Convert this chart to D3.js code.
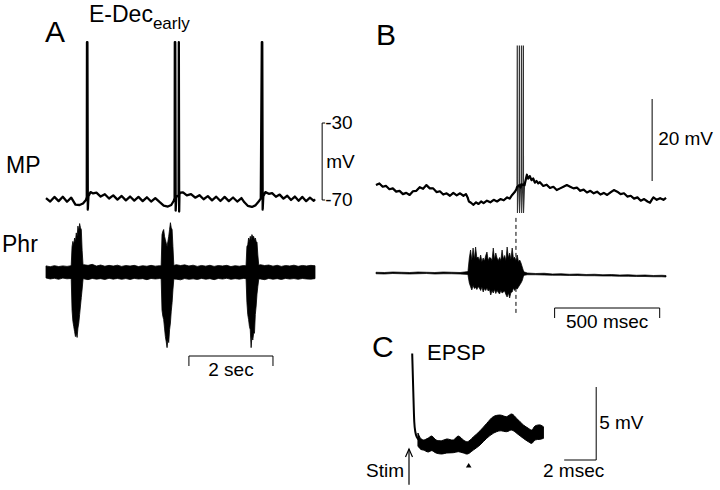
<!DOCTYPE html>
<html><head><meta charset="utf-8">
<script src="https://cdn.jsdelivr.net/npm/d3@7"></script>
<style>
body{margin:0;background:#fff}
svg{display:block}
text{font-family:"Liberation Sans",Arial,Helvetica,sans-serif;fill:#000}
</style>
</head><body>
<svg id="chart" width="720" height="490"></svg>
<script>
// ---------- DATA ----------
// Panel A: membrane potential (time s, mV)
const aMP = [
[0.0,-69.0],[0.1,-70.8],[0.2,-68.4],[0.3,-70.6],[0.4,-68.3],[0.5,-70.9],[0.6,-68.8],[0.7,-72.4],[0.8,-72.6],[0.88,-71.8],[0.95,-70.0],[0.97,-68.5],
[0.975,12],[0.985,12],[0.995,-75],[1.01,-68],[1.06,-65.9],[1.12,-66.6],[1.2,-66.2],[1.3,-68.2],[1.4,-67.0],[1.5,-69.2],[1.6,-67.6],[1.7,-69.8],
[1.8,-67.9],[1.9,-70.2],[2.0,-68.2],[2.1,-70.3],[2.2,-68.4],[2.3,-70.6],[2.4,-68.6],[2.5,-70.8],[2.6,-69.0],[2.7,-71.0],[2.8,-72.9],[2.9,-73.4],
[2.98,-72.6],[3.04,-70.4],[3.06,-69],[3.065,12],[3.075,12],[3.085,-75.5],[3.1,-68.5],[3.155,-67.5],[3.16,12],[3.168,-76],[3.175,-67],
[3.2,-66.2],[3.26,-66.0],[3.35,-67.6],[3.45,-66.9],[3.55,-68.8],[3.65,-67.5],[3.75,-69.6],[3.85,-68.0],[3.95,-70.2],[4.05,-68.3],[4.15,-70.5],
[4.25,-68.4],[4.35,-70.6],[4.45,-68.7],[4.55,-70.8],[4.65,-69.0],[4.72,-71.2],[4.8,-73.0],[4.9,-73.6],[4.98,-72.8],[5.06,-70.8],[5.11,-69.2],
[5.135,12],[5.145,12],[5.155,-75],[5.17,-68],[5.22,-65.9],[5.3,-66.8],[5.38,-66.4],[5.47,-68.3],[5.56,-67.2],[5.65,-69.3],[5.74,-67.8],
[5.83,-70.0],[5.92,-68.2],[6.01,-70.4],[6.1,-68.4],[6.19,-70.6],[6.28,-68.8],[6.37,-70.4],[6.4,-69.6]
];
// Panel A: phrenic nerve band envelope (time s, upper, lower; arbitrary units)
const aPhrBand = [
[0.0,0.72,-0.70],[0.1,0.62,-0.82],[0.2,0.75,-0.74],[0.3,0.64,-0.86],[0.4,0.72,-0.72],[0.5,0.66,-0.80],[0.6,0.74,-0.76],[0.7,0.7,-0.8],[0.8,0.7,-0.8],
[0.9,0.86,-0.80],[1.0,0.78,-0.90],[1.1,0.90,-0.76],[1.2,0.70,-0.84],[1.3,0.82,-0.78],[1.4,0.68,-0.88],[1.5,0.78,-0.74],[1.6,0.70,-0.84],
[1.7,0.80,-0.76],[1.8,0.66,-0.86],[1.9,0.76,-0.77],[2.0,0.70,-0.88],[2.1,0.78,-0.75],[2.2,0.64,-0.83],[2.3,0.74,-0.78],[2.4,0.68,-0.90],
[2.5,0.78,-0.76],[2.6,0.69,-0.82],[2.7,0.74,-0.77],[2.8,0.7,-0.8],[2.9,0.7,-0.8],[3.0,0.7,-0.8],[3.1,0.86,-0.84],[3.2,0.76,-0.92],[3.3,0.84,-0.77],
[3.4,0.71,-0.86],[3.5,0.80,-0.80],[3.6,0.66,-0.88],[3.7,0.77,-0.75],[3.8,0.69,-0.85],[3.9,0.79,-0.78],[4.0,0.66,-0.90],[4.1,0.76,-0.76],
[4.2,0.71,-0.83],[4.3,0.78,-0.74],[4.4,0.64,-0.86],[4.5,0.74,-0.78],[4.6,0.68,-0.84],[4.7,0.76,-0.76],[4.8,0.7,-0.8],[4.9,0.7,-0.8],[5.0,0.7,-0.8],
[5.1,0.86,-0.82],[5.2,0.76,-0.90],[5.3,0.82,-0.76],[5.4,0.69,-0.85],[5.5,0.79,-0.78],[5.6,0.66,-0.88],[5.7,0.76,-0.75],[5.8,0.71,-0.83],
[5.9,0.80,-0.77],[6.0,0.67,-0.86],[6.1,0.77,-0.76],[6.2,0.71,-0.82],[6.3,0.78,-0.84],[6.4,0.74,-0.78]
];
// Panel A: phrenic bursts (time s, upper, lower)
const aPhrBurst1 = [
[0.60,0.8,-0.8],[0.62,3.0,-4.5],[0.64,3.6,-5.8],[0.66,3.2,-6.4],[0.68,4.0,-7.0],[0.70,3.6,-7.6],[0.72,4.6,-7.2],[0.74,4.2,-7.7],
[0.76,5.4,-6.6],[0.78,4.8,-6.0],[0.80,5.7,-5.0],[0.82,5.2,-4.0],[0.84,5.0,-3.0],[0.86,2.5,-2.0],[0.88,0.9,-0.9]
];
const aPhrBurst2 = [
[2.74,0.8,-0.8],[2.76,4.4,-4.5],[2.78,4.8,-5.2],[2.80,5.0,-5.6],[2.82,4.2,-6.6],[2.84,3.8,-7.6],[2.86,3.4,-8.2],[2.88,3.0,-8.9],
[2.90,3.6,-8.0],[2.92,4.2,-8.3],[2.94,5.0,-6.8],[2.96,5.8,-6.0],[2.98,5.2,-4.6],[3.00,5.0,-3.6],[3.02,3.0,-2.1],[3.04,0.9,-0.9]
];
const aPhrBurst3 = [
[4.76,0.8,-0.8],[4.78,3.0,-3.6],[4.80,3.2,-5.0],[4.82,4.0,-5.6],[4.84,3.6,-6.4],[4.86,4.2,-6.8],[4.88,3.8,-8.9],[4.90,4.4,-7.6],
[4.92,4.1,-8.0],[4.94,4.2,-7.2],[4.96,3.8,-7.2],[4.98,4.0,-5.0],[5.00,3.6,-4.0],[5.02,3.5,-2.6],[5.04,2.0,-1.7],[5.06,0.9,-0.9]
];
// Panel B: membrane potential (time ms, mV relative)
const bMP = [
[0,-1.0],[16,-0.6],[32,-1.4],[48,-1.2],[64,-2.0],[80,-1.8],[96,-2.6],[112,-2.4],[128,-3.2],[144,-2.9],[160,-3.4],[176,-2.5],[192,-2.4],
[208,-1.5],[224,-1.9],[240,-1.0],[256,-1.8],[272,-1.8],[288,-2.7],[304,-2.5],[320,-3.3],[336,-3.0],[352,-3.6],[368,-2.9],[384,-3.5],
[400,-3.0],[416,-3.6],[428,-3.2],[436,-4.0],[442,-5.0],[452,-5.3],[464,-5.8],[476,-5.2],[488,-5.6],[500,-5.0],[512,-5.4],[528,-4.8],
[544,-5.2],[560,-4.6],[576,-5.0],[592,-4.4],[608,-4.7],[624,-4.0],[636,-4.3],[648,-3.4],[660,-2.7],[668,-2.0],
[671,-1.5],[672,32.9],[672.6,32.9],[673,-7.8],[678,-1.2],
[681,-1.0],[682,32.9],[682.6,32.9],[683,-7.8],[688,-1.6],
[691,-0.8],[692,32.9],[692.6,32.9],[693,-7.8],[698,-1.0],
[700,-0.8],[701,32.9],[701.6,32.9],[702,-7.8],[707,-1.0],
[712,0.2],[718,1.5],[724,0.6],[732,1.2],[740,0.2],[748,0.6],[756,-0.4],[764,0.0],[772,-0.6],[780,-0.3],[796,-1.2],[812,-0.9],
[828,-1.7],[844,-1.4],[860,-2.2],[876,-1.8],[892,-1.4],[908,-1.0],[924,-1.4],[940,-1.8],[956,-1.6],[972,-2.4],[988,-2.1],[1004,-2.8],
[1020,-2.4],[1036,-3.0],[1052,-2.6],[1068,-3.3],[1084,-2.9],[1100,-3.4],[1116,-2.8],[1132,-2.2],[1148,-2.6],[1164,-3.2],[1180,-3.0],
[1196,-3.8],[1212,-3.6],[1228,-4.3],[1244,-4.0],[1260,-4.8],[1276,-4.4],[1292,-5.0],[1304,-5.3],[1312,-4.6],[1320,-4.0],[1336,-4.6],
[1352,-4.2],[1368,-4.6],[1380,-4.1]
];
// Panel B: phrenic (time ms, upper, lower; arbitrary units)
const bPhrBase1 = [
[0,0.03,-0.03],[40,0.02,-0.04],[80,0.04,-0.02],[120,0.03,-0.03],[160,0.02,-0.04],[200,0.04,-0.03],[240,0.03,-0.02],[280,0.02,-0.04],
[320,0.04,-0.03],[360,0.03,-0.03],[400,0.02,-0.04],[440,0.06,-0.06]
];
const bPhrBase2 = [
[700,0.06,-0.1],[720,0.0,-0.07],[760,-0.02,-0.07],[800,-0.01,-0.08],[840,-0.04,-0.09],[880,-0.03,-0.09],[920,-0.05,-0.1],[960,-0.04,-0.1],
[1000,-0.06,-0.11],[1040,-0.05,-0.11],[1080,-0.07,-0.12],[1120,-0.06,-0.12],[1160,-0.08,-0.13],[1200,-0.07,-0.13],[1240,-0.09,-0.14],
[1280,-0.08,-0.14],[1320,-0.1,-0.15],[1360,-0.09,-0.15],[1380,-0.1,-0.16]
];
const bPhrBurst = [
[438,0.1,-0.1],[444,0.6,-0.4],[450,0.92,-0.55],[456,0.5,-0.68],[462,1.0,-0.5],[468,0.55,-0.62],[474,1.04,-0.58],[480,0.6,-0.66],
[486,0.64,-0.55],[492,0.5,-0.6],[498,0.72,-0.7],[504,0.45,-0.56],[510,0.6,-0.76],[516,0.48,-0.62],[522,0.7,-0.7],[528,0.84,-0.6],
[534,0.5,-0.72],[540,0.62,-0.66],[546,0.6,-0.88],[552,0.5,-0.7],[558,1.0,-0.8],[564,0.55,-0.66],[570,0.8,-0.82],[576,0.6,-0.7],
[582,0.5,-0.78],[588,0.62,-0.84],[594,0.5,-0.7],[600,0.92,-0.8],[606,0.55,-0.76],[612,0.7,-0.72],[618,0.5,-0.86],[624,1.04,-0.96],
[630,0.6,-0.8],[636,0.8,-1.0],[642,0.55,-0.78],[648,1.0,-0.76],[654,0.58,-0.6],[660,0.64,-0.7],[666,0.5,-0.6],[672,0.72,-0.64],
[678,0.45,-0.56],[684,0.52,-0.48],[690,0.4,-0.4],[696,0.24,-0.3],[702,0.08,-0.12]
];
// Panel C: EPSP (time ms after stim, mV)
const cArtifact = [[0.2,7.3],[0.26,5.0],[0.33,2.6],[0.4,1.9],[0.5,1.55],[0.6,1.4]];
const cEPSP = [
[0.56,1.85,0.95],[0.75,1.45,0.72],[0.9,1.37,0.68],[1.2,1.5,0.55],[1.42,1.64,0.64],[1.69,1.37,0.48],[2.04,1.32,0.41],[2.36,1.44,0.48],
[2.77,1.37,0.5],[3.08,1.64,0.57],[3.4,1.37,0.48],[3.65,1.25,0.41],[4.02,1.58,0.68],[4.44,2.0,1.03],[4.85,2.5,1.48],[5.27,2.97,1.83],
[5.69,3.08,2.0],[6.1,2.97,1.94],[6.42,3.15,2.05],[6.73,2.85,1.83],[7.15,2.4,1.48],[7.46,2.17,1.25],[7.67,2.05,1.14],[7.88,2.33,1.37],
[8.19,2.4,1.42],[8.4,2.28,1.48]
];
// Scale bars and markers
const aVoltBar = [-70, -30];       // mV
const aVoltLabels = ["-70", "-30"];
const aTimeBar = [3.4, 5.4];       // s  -> "2 sec"
const bVoltBar = [0, 20];          // mV -> "20 mV"
const bTimeBar = [850, 1350];      // ms -> "500 msec"
const bDashT = 666;                // ms, burst onset marker
const cVoltBar = [0, 5];           // mV -> "5 mV"
const cTimeBar = [9.7, 11.7];      // ms -> "2 msec"
const cStimT = 0;                  // ms
const cMarkerT = 3.73;             // ms, arrowhead

// ---------- SCALES ----------
const xA = d3.scaleLinear([0, 6.4], [46, 315]);
const yA = d3.scaleLinear([-70, -30], [200, 123]);
const yPA = d3.scaleLinear([-1, 1], [280.5, 263.5]);
const xB = d3.scaleLinear([0, 1380], [376, 666]);
const yB = d3.scaleLinear([0, 20], [181, 99]);
const yPB = d3.scaleLinear([-1, 1], [298, 248]);
const xC = d3.scaleLinear([0, 8.5], [409, 545]);
const yC = d3.scaleLinear([0, 5], [460, 387]);

const svg = d3.select("#chart");
svg.append("rect").attr("width",720).attr("height",490).attr("fill","#fff");

const line = (x,y) => d3.line().x(d=>x(d[0])).y(d=>y(d[1]));
const band = (x,y) => d3.area().x(d=>x(d[0])).y1(d=>y(d[1])).y0(d=>y(d[2]));

// ---------- PANEL A ----------
svg.append("path").datum(aMP).attr("d", line(xA,yA))
  .attr("fill","none").attr("stroke","#000").attr("stroke-width",2.3).attr("stroke-linejoin","round");
svg.append("path").datum(aPhrBand).attr("d", band(xA,yPA))
  .attr("fill","#000").attr("stroke","#000").attr("stroke-width",0.8);
[aPhrBurst1,aPhrBurst2,aPhrBurst3].forEach(b=>{
  svg.append("path").datum(b).attr("d", band(xA,yPA))
    .attr("fill","#000").attr("stroke","#000").attr("stroke-width",0.8);
});
// mV scale bar
const ax = xA(6.57);
svg.append("path")
  .attr("d", `M${ax+3},${yA(aVoltBar[1])}H${ax}V${yA(aVoltBar[0])}H${ax+3}`)
  .attr("fill","none").attr("stroke","#000").attr("stroke-width",1);
svg.append("text").attr("x",ax+3).attr("y",yA(aVoltBar[1])+6).attr("font-size",19).text(aVoltLabels[1]);
svg.append("text").attr("x",ax+3).attr("y",yA(aVoltBar[0])+6).attr("font-size",19).text(aVoltLabels[0]);
svg.append("text").attr("x",ax+4).attr("y",yA(-50)+6).attr("font-size",19).text("mV");
// time bar
svg.append("path")
  .attr("d", `M${xA(aTimeBar[0])},366V356H${xA(aTimeBar[1])}V366`)
  .attr("fill","none").attr("stroke","#000").attr("stroke-width",1);
svg.append("text").attr("x",(xA(aTimeBar[0])+xA(aTimeBar[1]))/2).attr("y",376)
  .attr("text-anchor","middle").attr("font-size",19).text("2 sec");
// labels
svg.append("text").attr("x",45).attr("y",42).attr("font-size",30).text("A");
const ed = svg.append("text").attr("x",89).attr("y",22).attr("font-size",23);
ed.append("tspan").text("E-Dec");
ed.append("tspan").attr("font-size",17).attr("dy",7).text("early");
svg.append("text").attr("x",6).attr("y",173).attr("font-size",23).text("MP");
svg.append("text").attr("x",2).attr("y",252).attr("font-size",23).text("Phr");

// ---------- PANEL B ----------
const isSpike = d => d[1] > 10 || d[1] < -7;
svg.append("path").datum(bMP).attr("d", line(xB,yB))
  .attr("fill","none").attr("stroke","#333").attr("stroke-width",1.1);
svg.append("path").datum(bMP.filter(d=>!isSpike(d))).attr("d", line(xB,yB))
  .attr("fill","none").attr("stroke","#000").attr("stroke-width",2.2).attr("stroke-linejoin","round");
[bPhrBase1,bPhrBase2,bPhrBurst].forEach(b=>{
  svg.append("path").datum(b).attr("d", band(xB,yPB))
    .attr("fill","#000").attr("stroke","#000").attr("stroke-width",0.7);
});
svg.append("line").attr("x1",xB(bDashT)).attr("x2",xB(bDashT))
  .attr("y1",yB(-9)).attr("y2",yPB(-1.6))
  .attr("stroke","#000").attr("stroke-width",1).attr("stroke-dasharray","4,3");
// 20 mV bar
svg.append("line").attr("x1",xB(1314)).attr("x2",xB(1314)).attr("y1",yB(bVoltBar[0])).attr("y2",yB(bVoltBar[1]))
  .attr("stroke","#000").attr("stroke-width",1);
svg.append("text").attr("x",xB(1314)+6).attr("y",145).attr("font-size",19).text("20 mV");
// 500 msec bar
svg.append("path")
  .attr("d", `M${xB(bTimeBar[0])},318V308H${xB(bTimeBar[1])}V318`)
  .attr("fill","none").attr("stroke","#000").attr("stroke-width",1);
svg.append("text").attr("x",(xB(bTimeBar[0])+xB(bTimeBar[1]))/2).attr("y",328)
  .attr("text-anchor","middle").attr("font-size",19).text("500 msec");
svg.append("text").attr("x",376).attr("y",45).attr("font-size",30).text("B");

// ---------- PANEL C ----------
svg.append("path").datum(cArtifact).attr("d", line(xC,yC).curve(d3.curveMonotoneX))
  .attr("fill","none").attr("stroke","#000").attr("stroke-width",2);
svg.append("path").datum(cEPSP).attr("d", band(xC,yC).curve(d3.curveCatmullRom))
  .attr("fill","#000").attr("stroke","#000").attr("stroke-width",1);
// stim arrow
const sx = xC(cStimT);
svg.append("line").attr("x1",sx).attr("x2",sx).attr("y1",yC(-1.7)).attr("y2",yC(0.75))
  .attr("stroke","#000").attr("stroke-width",1.2);
svg.append("path").attr("d",`M${sx-3.5},${yC(0.75)+8}L${sx},${yC(0.75)}L${sx+3.5},${yC(0.75)+8}`)
  .attr("fill","none").attr("stroke","#000").attr("stroke-width",1.2);
svg.append("text").attr("x",366).attr("y",477).attr("font-size",19).text("Stim");
// marker triangle
const mx = xC(cMarkerT);
svg.append("path").attr("d",`M${mx},${yC(-0.2)}L${mx+2.8},${yC(-0.52)}L${mx-2.8},${yC(-0.52)}Z`).attr("fill","#000");
// scale bars
svg.append("path")
  .attr("d",`M${xC(cTimeBar[0])},${yC(cVoltBar[0])}H${xC(cTimeBar[1])}V${yC(cVoltBar[1])}`)
  .attr("fill","none").attr("stroke","#000").attr("stroke-width",1);
svg.append("text").attr("x",xC(cTimeBar[1])+3).attr("y",429).attr("font-size",19).text("5 mV");
svg.append("text").attr("x",543).attr("y",477).attr("font-size",19).text("2 msec");
svg.append("text").attr("x",372).attr("y",357).attr("font-size",30).text("C");
svg.append("text").attr("x",427).attr("y",360).attr("font-size",22).text("EPSP");
</script>
</body></html>
